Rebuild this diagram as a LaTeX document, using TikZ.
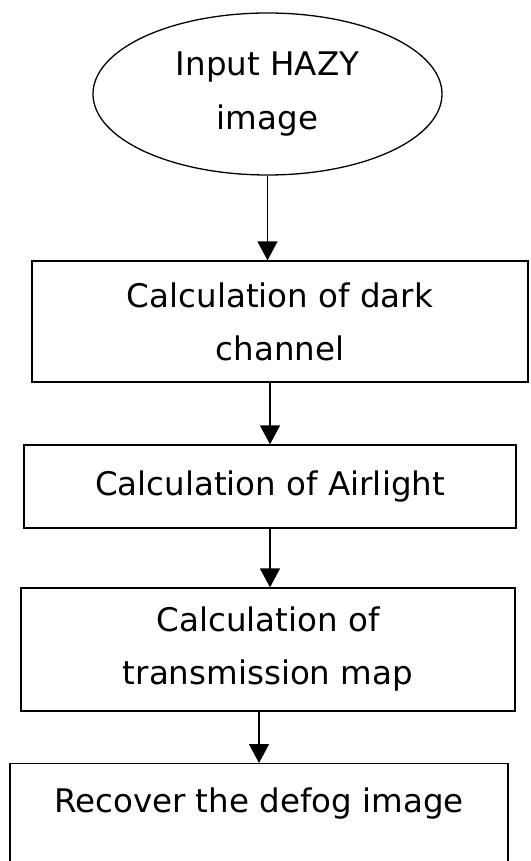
\documentclass[tikz,border=0pt]{standalone}
\usepackage{fontspec}
\setmainfont{DejaVu Sans}
\usetikzlibrary{shapes.geometric,arrows.meta}
\begin{document}
\begin{tikzpicture}[x=1pt,y=-1pt,
  txt/.style={font=\fontsize{32.5}{53}\selectfont},
  box/.style={draw, line width=1.3pt, rectangle, align=center, inner sep=0pt, txt},
  arr/.style={line width=1.3pt, -{Triangle[width=20pt,length=19pt]}}]
\useasboundingbox (0,0) rectangle (530,861);
\clip (0,0) rectangle (530,861);
\node[draw, ellipse, line width=1.3pt, minimum width=349pt, minimum height=162pt,
      inner sep=0pt, align=center, font=\fontsize{32.5}{54}\selectfont]
      (e) at (267.5,94) {Input HAZY\\image};
\node[box, minimum width=496pt, minimum height=121pt] (b1) at (280,321.5) {Calculation of dark\\channel};
\node[box, minimum width=492pt, minimum height=83pt] (b2) at (270,486.5) {Calculation of Airlight};
\node[box, minimum width=494pt, minimum height=123pt] (b3) at (268,649.5) {Calculation of\\transmission map};
\node[box, minimum width=498pt, minimum height=137pt, anchor=north] (b4) at (259,763) {};
\node[txt, anchor=base, inner sep=0pt] (t4) at (259,812) {Recover the defog image};
\draw[arr] (e.south) -- (e.south |- b1.north);
\draw[arr] (b2.north |- b1.south) -- (b2.north);
\draw[arr] (b2.south) -- (b2.south |- b3.north);
\draw[arr] (b4.north |- b3.south) -- (b4.north);
\end{tikzpicture}
\end{document}
